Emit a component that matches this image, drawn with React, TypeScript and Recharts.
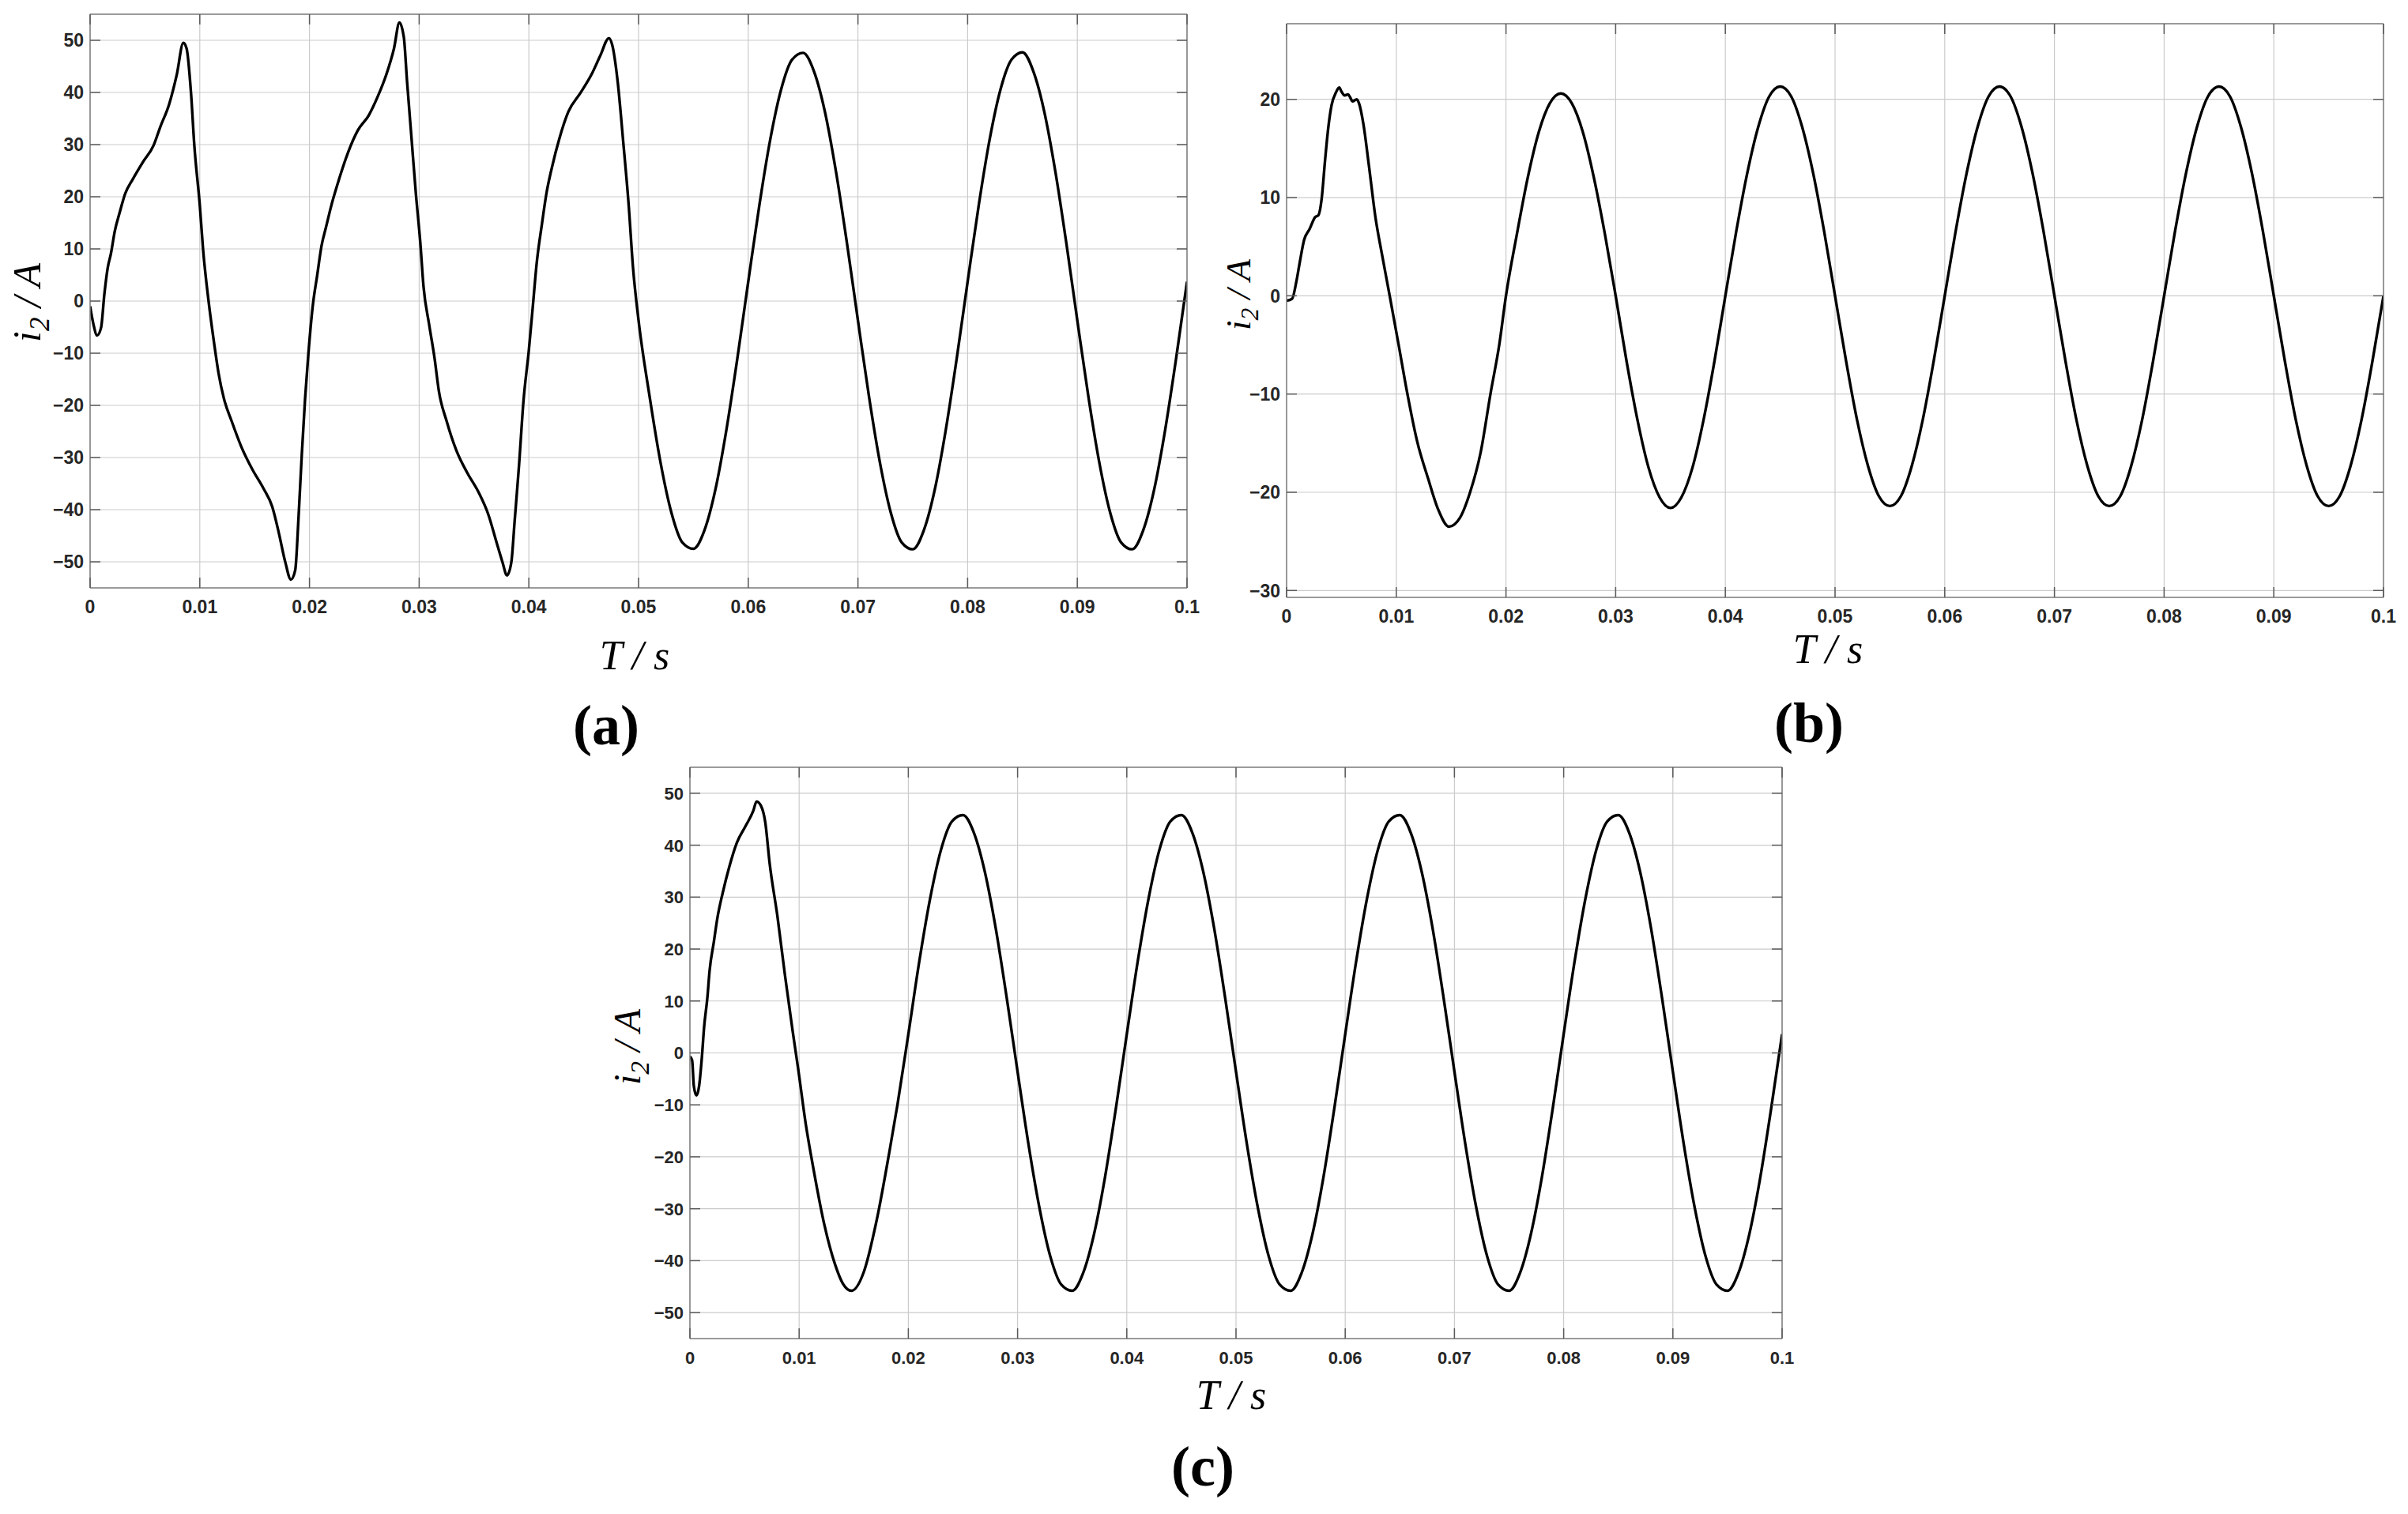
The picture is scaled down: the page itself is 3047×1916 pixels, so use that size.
import React from 'react';
import { LineChart, Line, XAxis, YAxis, CartesianGrid } from 'recharts';

// shared axis ticks
const timeTicks = [0, 0.01, 0.02, 0.03, 0.04, 0.05, 0.06, 0.07, 0.08, 0.09, 0.1];
const currentTicksAC = [-50, -40, -30, -20, -10, 0, 10, 20, 30, 40, 50];
const currentTicksB = [-30, -20, -10, 0, 10, 20];

// (a) i2 vs time
const timeA = [
  0, 0.0003, 0.00064, 0.001, 0.0013, 0.0016, 0.0019, 0.00225, 0.0027, 0.0032,
  0.0039, 0.0048, 0.0058, 0.0064, 0.0072, 0.0079, 0.0085, 0.0088, 0.0092, 0.0095,
  0.01, 0.0103, 0.0108, 0.0113, 0.0117, 0.0122, 0.0129, 0.0138, 0.0148, 0.0158,
  0.0166, 0.0172, 0.0178, 0.0183, 0.0187, 0.019, 0.0193, 0.0196, 0.0199, 0.0203,
  0.0207, 0.0211, 0.0215, 0.022, 0.0227, 0.0235, 0.0244, 0.0254, 0.0262, 0.027,
  0.0277, 0.0282, 0.0286, 0.0289, 0.0293, 0.0297, 0.0301, 0.0304, 0.0309, 0.0314,
  0.0318, 0.0325, 0.0334, 0.0344, 0.0354, 0.0363, 0.0371, 0.0376, 0.038, 0.0384,
  0.0387, 0.0391, 0.0395, 0.04, 0.0404, 0.0407, 0.0412, 0.0416, 0.0421, 0.0428,
  0.0436, 0.0447, 0.0457, 0.0465, 0.0473, 0.0476, 0.0481, 0.0486, 0.0491, 0.0495,
  0.05, 0.051, 0.052, 0.053, 0.054, 0.055, 0.056, 0.057, 0.058, 0.059,
  0.06, 0.061, 0.062, 0.063, 0.064, 0.065, 0.066, 0.067, 0.068, 0.069,
  0.07, 0.071, 0.072, 0.073, 0.074, 0.075, 0.076, 0.077, 0.078, 0.079,
  0.08, 0.081, 0.082, 0.083, 0.084, 0.085, 0.086, 0.087, 0.088, 0.089,
  0.09, 0.091, 0.092, 0.093, 0.094, 0.095, 0.096, 0.097, 0.098, 0.099,
  0.1,
];
const currentA = [
  -1.0, -4.4, -6.6, -5.1, 1.3, 6.3, 9.1, 13.4, 17.0, 20.6,
  23.4, 26.6, 29.9, 33.4, 37.7, 43.4, 49.5, 48.4, 39.9, 29.9,
  18.4, 9.9, 0, -8.0, -13.7, -18.7, -23.0, -28.0, -32.3, -35.9,
  -39.4, -44.4, -50.1, -53.4, -51.6, -41.6, -29.4, -18.7, -10.1, -0.9,
  4.9, 10.6, 14.1, 18.4, 23.4, 28.4, 32.7, 35.6, 39.1, 43.4,
  48.4, 53.4, 50.6, 42.0, 31.3, 20.6, 11.3, 2.7, -4.4, -10.9,
  -17.3, -23.0, -28.7, -33.0, -36.6, -40.9, -46.6, -50.1, -52.6, -50.1,
  -42.3, -31.6, -19.4, -9.4, -0.1, 7.0, 14.9, 20.6, 25.6, 31.3,
  36.3, 39.9, 43.4, 47.0, 50.4, 49.1, 42.0, 30.6, 18.4, 6.3,
  -3.7, -18.2, -30.9, -40.6, -46.3, -47.5, -44.0, -36.2, -24.8, -11.1,
  3.7, 18.2, 30.9, 40.6, 46.3, 47.6, 44.0, 36.2, 24.8, 11.1,
  -3.7, -18.2, -30.9, -40.6, -46.3, -47.6, -44.0, -36.2, -24.8, -11.1,
  3.7, 18.2, 30.9, 40.6, 46.3, 47.7, 44.0, 36.2, 24.8, 11.1,
  -3.7, -18.2, -30.9, -40.6, -46.3, -47.6, -44.0, -36.2, -24.8, -11.1,
  3.7,
];

// (b) i2 vs time
const timeB = [
  0, 0.0005, 0.0009, 0.0012, 0.0016, 0.0021, 0.0026, 0.0029, 0.0032, 0.0035,
  0.0038, 0.0041, 0.0045, 0.0048, 0.005, 0.0053, 0.0056, 0.0058, 0.006, 0.0064,
  0.0066, 0.007, 0.0075, 0.0081, 0.0087, 0.0094, 0.0102, 0.011, 0.0119, 0.0129,
  0.0138, 0.0148, 0.0158, 0.0167, 0.0177, 0.0186, 0.0194,
  0.02, 0.021, 0.022, 0.023, 0.024, 0.025, 0.026, 0.027, 0.028, 0.029,
  0.03, 0.031, 0.032, 0.033, 0.034, 0.035, 0.036, 0.037, 0.038, 0.039,
  0.04, 0.041, 0.042, 0.043, 0.044, 0.045, 0.046, 0.047, 0.048, 0.049,
  0.05, 0.051, 0.052, 0.053, 0.054, 0.055, 0.056, 0.057, 0.058, 0.059,
  0.06, 0.061, 0.062, 0.063, 0.064, 0.065, 0.066, 0.067, 0.068, 0.069,
  0.07, 0.071, 0.072, 0.073, 0.074, 0.075, 0.076, 0.077, 0.078, 0.079,
  0.08, 0.081, 0.082, 0.083, 0.084, 0.085, 0.086, 0.087, 0.088, 0.089,
  0.09, 0.091, 0.092, 0.093, 0.094, 0.095, 0.096, 0.097, 0.098, 0.099,
  0.1,
];
const currentB = [
  -0.5, -0.3, 1.5, 3.4, 5.7, 6.8, 8.0, 8.2, 9.9, 13.7,
  17.1, 19.4, 20.7, 21.2, 20.8, 20.4, 20.5, 20.2, 19.8, 20.0,
  19.6, 17.5, 13.3, 8.0, 4.2, 0, -4.9, -9.9, -14.8, -18.6,
  -21.7, -23.5, -22.6, -20.1, -15.9, -9.9, -4.9,
  0, 6.3, 12.1, 16.7, 19.6, 20.6, 19.6, 16.7, 12.1, 6.4,
  0, -6.7, -12.7, -17.5, -20.5, -21.6, -20.5, -17.5, -12.7, -6.7,
  0, 6.6, 12.5, 17.2, 20.3, 21.3, 20.3, 17.2, 12.5, 6.6,
  0, -6.6, -12.6, -17.3, -20.4, -21.4, -20.4, -17.3, -12.6, -6.6,
  0, 6.6, 12.5, 17.2, 20.3, 21.3, 20.3, 17.2, 12.5, 6.6,
  0, -6.6, -12.6, -17.3, -20.4, -21.4, -20.4, -17.3, -12.6, -6.6,
  0, 6.6, 12.5, 17.2, 20.3, 21.3, 20.3, 17.2, 12.5, 6.6,
  0, -6.6, -12.6, -17.3, -20.4, -21.4, -20.4, -17.3, -12.6, -6.6,
  0,
];

// (c) i2 vs time
const timeC = [
  0, 0.0002, 0.00036, 0.0006, 0.00084, 0.0011, 0.0013, 0.0016, 0.0018, 0.0022,
  0.0025, 0.003, 0.0036, 0.0043, 0.0051, 0.0058, 0.0061, 0.0065, 0.0069, 0.0073,
  0.008, 0.0087, 0.0094, 0.0099, 0.0106, 0.0113, 0.0123, 0.0133, 0.014, 0.0148,
  0.0159, 0.0171, 0.0183, 0.019,
  0.02, 0.021, 0.022, 0.023, 0.024, 0.025, 0.026, 0.027, 0.028, 0.029,
  0.03, 0.031, 0.032, 0.033, 0.034, 0.035, 0.036, 0.037, 0.038, 0.039,
  0.04, 0.041, 0.042, 0.043, 0.044, 0.045, 0.046, 0.047, 0.048, 0.049,
  0.05, 0.051, 0.052, 0.053, 0.054, 0.055, 0.056, 0.057, 0.058, 0.059,
  0.06, 0.061, 0.062, 0.063, 0.064, 0.065, 0.066, 0.067, 0.068, 0.069,
  0.07, 0.071, 0.072, 0.073, 0.074, 0.075, 0.076, 0.077, 0.078, 0.079,
  0.08, 0.081, 0.082, 0.083, 0.084, 0.085, 0.086, 0.087, 0.088, 0.089,
  0.09, 0.091, 0.092, 0.093, 0.094, 0.095, 0.096, 0.097, 0.098, 0.099,
  0.1,
];
const currentC = [
  -0.7, -1.4, -6.4, -8.2, -6.4, -0.7, 5.0, 10.7, 15.8, 21.5,
  25.8, 30.8, 35.8, 40.5, 43.7, 46.6, 48.4, 47.6, 44.4, 36.5,
  26.5, 15.0, 4.3, -2.9, -13.6, -22.2, -33.0, -40.8, -44.4, -45.8,
  -42.3, -32.2, -18.6, -10.0,
  3.6, 17.6, 29.8, 39.2, 44.6, 45.8, 42.4, 34.9, 24.0, 10.7,
  -3.6, -17.6, -29.8, -39.2, -44.6, -45.8, -42.4, -34.9, -24.0, -10.7,
  3.6, 17.6, 29.8, 39.2, 44.6, 45.8, 42.4, 34.9, 24.0, 10.7,
  -3.6, -17.6, -29.8, -39.2, -44.6, -45.8, -42.4, -34.9, -24.0, -10.7,
  3.6, 17.6, 29.8, 39.2, 44.6, 45.8, 42.4, 34.9, 24.0, 10.7,
  -3.6, -17.6, -29.8, -39.2, -44.6, -45.8, -42.4, -34.9, -24.0, -10.7,
  3.6, 17.6, 29.8, 39.2, 44.6, 45.8, 42.4, 34.9, 24.0, 10.7,
  -3.6, -17.6, -29.8, -39.2, -44.6, -45.8, -42.4, -34.9, -24.0, -10.7,
  3.6,
];

const toRows = (t: number[], v: number[]) => t.map((time, k) => ({ t: time, i2: v[k] }));

const BOX = '#808080';
const TICK_COLOR = '#5a5a5a';
const TICK_LEN = 13;
const labelFont = '"Liberation Sans", Arial, sans-serif';
const serif = '"Liberation Serif", "Times New Roman", serif';

const fmt = (v: number) => String(v).replace('-', '\u2212');

function BottomTick(props: any) {
  const { x, y, payload, size } = props;
  return (
    <g>
      <line x1={x} x2={x} y1={y} y2={y - TICK_LEN} stroke={TICK_COLOR} strokeWidth={1.5} />
      <text x={x} y={y + 24} dy="0.36em" textAnchor="middle" fontFamily={labelFont}
        fontWeight={700} fontSize={size} fill="#262626">{fmt(payload.value)}</text>
    </g>
  );
}

function TopTick(props: any) {
  const { x, y } = props;
  return <line x1={x} x2={x} y1={y} y2={y + TICK_LEN} stroke={TICK_COLOR} strokeWidth={1.5} />;
}

function LeftTick(props: any) {
  const { x, y, payload, size } = props;
  return (
    <g>
      <line x1={x} x2={x + TICK_LEN} y1={y} y2={y} stroke={TICK_COLOR} strokeWidth={1.5} />
      <text x={x - 8} y={y} dy="0.36em" textAnchor="end" fontFamily={labelFont}
        fontWeight={700} fontSize={size} fill="#262626">{fmt(payload.value)}</text>
    </g>
  );
}

function RightTick(props: any) {
  const { x, y } = props;
  return <line x1={x} x2={x - TICK_LEN} y1={y} y2={y} stroke={TICK_COLOR} strokeWidth={1.5} />;
}

interface PanelProps {
  rows: { t: number; i2: number }[];
  left: number;
  top: number;
  width: number;
  height: number;
  plot: { x0: number; x1: number; y0: number; y1: number };
  yDomain: [number, number];
  yTicks: number[];
  fontSize: number;
}

// axis bands: left 60, right 10, bottom 40, top 10
function Panel({ rows, left, top, width, height, plot, yDomain, yTicks, fontSize }: PanelProps) {
  const margin = {
    left: plot.x0 - left - 60,
    right: left + width - plot.x1 - 10,
    top: plot.y0 - top - 10,
    bottom: top + height - plot.y1 - 40,
  };
  const axisLine = { stroke: BOX, strokeWidth: 1.5 };
  return (
    <div style={{ position: 'absolute', left, top, width, height }}>
      <LineChart width={width} height={height} data={rows} margin={margin}>
        <CartesianGrid stroke="#cbcbcb" strokeWidth={1.2} />
        <XAxis dataKey="t" type="number" domain={[0, 0.1]} ticks={timeTicks} interval={0}
          allowDataOverflow height={40} tickSize={0} tickMargin={0} tickLine={false}
          axisLine={axisLine} tick={(p: any) => <BottomTick {...p} size={fontSize} />} />
        <XAxis xAxisId="top" orientation="top" dataKey="t" type="number" domain={[0, 0.1]}
          ticks={timeTicks} interval={0} allowDataOverflow height={10} tickSize={0}
          tickMargin={0} tickLine={false} axisLine={axisLine} tick={(p: any) => <TopTick {...p} />} />
        <YAxis type="number" domain={yDomain} ticks={yTicks} interval={0} allowDataOverflow
          width={60} tickSize={0} tickMargin={0} tickLine={false} axisLine={axisLine}
          tick={(p: any) => <LeftTick {...p} size={fontSize} />} />
        <YAxis yAxisId="right" orientation="right" type="number" domain={yDomain} ticks={yTicks}
          interval={0} allowDataOverflow width={10} tickSize={0} tickMargin={0} tickLine={false}
          axisLine={axisLine} tick={(p: any) => <RightTick {...p} />} />
        <Line type="monotone" dataKey="i2" stroke="#000" strokeWidth={3.4} dot={false}
          isAnimationActive={false} />
      </LineChart>
    </div>
  );
}

function YTitle({ x, y, size }: { x: number; y: number; size: number }) {
  const shift = size * 0.22;
  return (
    <text transform={`rotate(-90 ${x} ${y})`} x={x} y={y} textAnchor="middle"
      fontFamily={serif} fontStyle="italic" fontSize={size} fill="#000">
      i<tspan fontSize={size * 0.7} dy={shift}>2</tspan>
      <tspan dy={-shift}>{' / A'}</tspan>
    </text>
  );
}

function XTitle({ x, y, size }: { x: number; y: number; size: number }) {
  return (
    <text x={x} y={y} textAnchor="middle" fontFamily={serif} fontStyle="italic"
      fontSize={size} fill="#000">T / s</text>
  );
}

function Tag({ x, y, label }: { x: number; y: number; label: string }) {
  return (
    <text x={x} y={y} textAnchor="middle" fontFamily={serif} fontWeight={700}
      fontSize={72} fill="#000">{label}</text>
  );
}

export default function App() {
  return (
    <div style={{ position: 'absolute', left: 0, top: 0, width: 3047, height: 1916,
      background: '#fff', overflow: 'hidden' }}>
      <Panel rows={toRows(timeA, currentA)} left={0} top={0} width={1530} height={800}
        plot={{ x0: 114, x1: 1502, y0: 18, y1: 744 }} yDomain={[-55, 55]}
        yTicks={currentTicksAC} fontSize={23} />
      <Panel rows={toRows(timeB, currentB)} left={1530} top={0} width={1517} height={830}
        plot={{ x0: 1628, x1: 3016, y0: 30, y1: 756 }} yDomain={[-30.7, 27.7]}
        yTicks={currentTicksB} fontSize={23} />
      <Panel rows={toRows(timeC, currentC)} left={760} top={940} width={1530} height={820}
        plot={{ x0: 873, x1: 2255, y0: 971, y1: 1694 }} yDomain={[-55, 55]}
        yTicks={currentTicksAC} fontSize={22} />
      <svg width={3047} height={1916}
        style={{ position: 'absolute', left: 0, top: 0, pointerEvents: 'none' }}>
        <YTitle x={51} y={383} size={50} />
        <XTitle x={803} y={847} size={52} />
        <Tag x={767} y={942} label="(a)" />
        <YTitle x={1582} y={373} size={45} />
        <XTitle x={2313} y={839} size={52} />
        <Tag x={2289} y={939} label="(b)" />
        <YTitle x={810} y={1325} size={48} />
        <XTitle x={1558} y={1783} size={52} />
        <Tag x={1522} y={1880} label="(c)" />
      </svg>
    </div>
  );
}
